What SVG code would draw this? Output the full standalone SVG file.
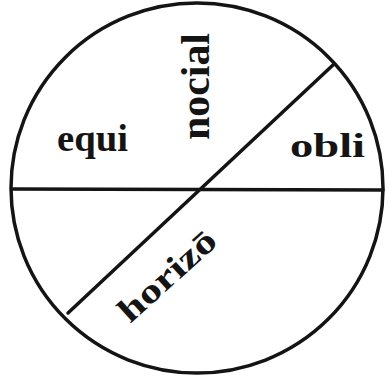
<svg xmlns="http://www.w3.org/2000/svg" width="389" height="381" viewBox="0 0 389 381">
<style>
.ln{stroke:#141414;stroke-width:3.5;fill:none;stroke-linecap:round}
.t{font-family:"Liberation Serif","DejaVu Serif",serif;font-weight:bold;fill:#141414}
</style>
<rect width="389" height="381" fill="#ffffff"/>
<g id="circle"><ellipse class="ln" cx="197" cy="188" rx="186" ry="185"/></g>
<g id="connectors">
<line class="ln" x1="12" y1="189" x2="383" y2="190"/>
<line class="ln" x1="333" y1="65" x2="68" y2="313"/>
</g>
<g id="equi"><text class="t" x="57" y="151" font-size="38" textLength="71" lengthAdjust="spacingAndGlyphs">equi</text></g>
<g id="nocial"><text class="t" transform="translate(209,140) rotate(-90)" font-size="40" textLength="107" lengthAdjust="spacingAndGlyphs">nocial</text></g>
<g id="obli"><text class="t" x="290" y="157" font-size="33" textLength="75" lengthAdjust="spacingAndGlyphs">obli</text></g>
<g id="horizon"><text class="t" transform="translate(130,324) rotate(-42)" font-size="34" textLength="120" lengthAdjust="spacingAndGlyphs">horizō</text></g>
</svg>
